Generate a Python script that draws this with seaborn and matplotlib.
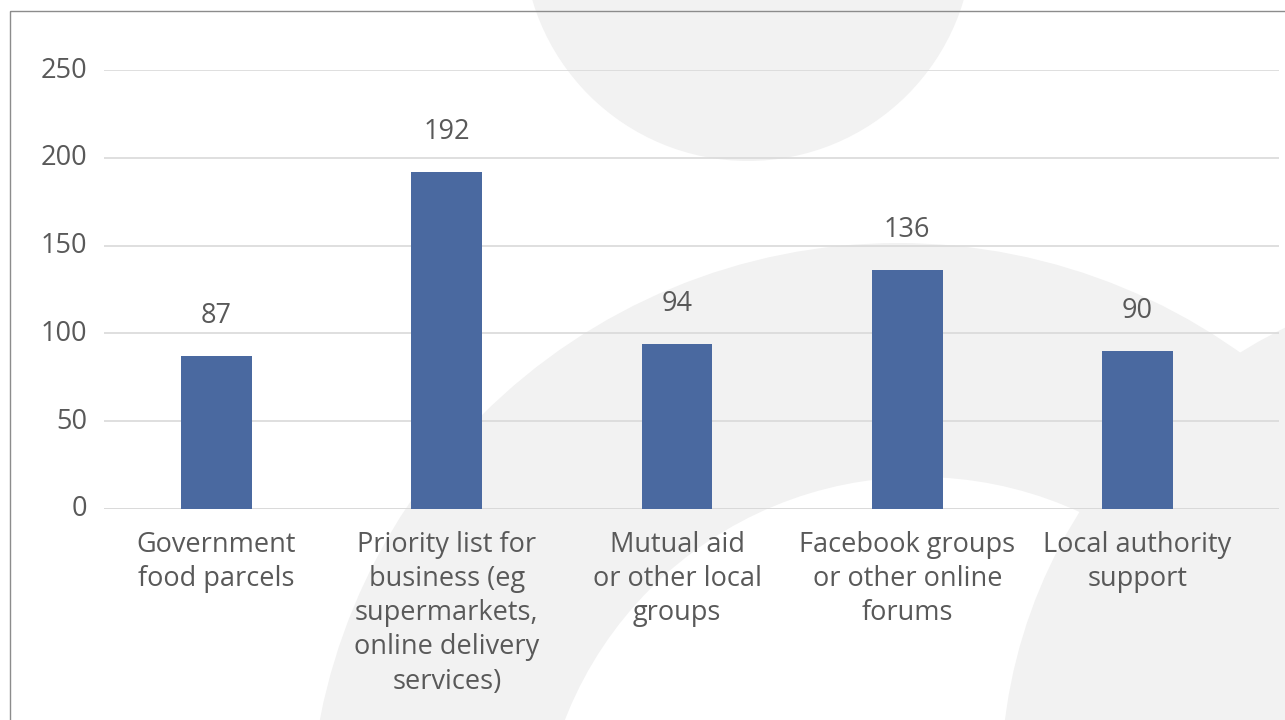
import matplotlib
matplotlib.use("Agg")
import matplotlib.pyplot as plt
from matplotlib.patches import Circle, Rectangle
from matplotlib.transforms import ScaledTranslation
import seaborn as sns
import pandas as pd

categories = [
    "Government\nfood parcels",
    "Priority list for\nbusiness (eg\nsupermarkets,\nonline delivery\nservices)",
    "Mutual aid\nor other local\ngroups",
    "Facebook groups\nor other online\nforums",
    "Local authority\nsupport",
]
values = [87, 192, 94, 136, 90]
y_ticks = [0, 50, 100, 150, 200, 250]

BAR = "#4A69A0"
TXT = "#595959"
GRID = "#D9D9D9"
SHAPE = "#F2F2F2"
FS = 19.5

sns.set_theme(style="white")
plt.rcParams["font.family"] = ["Open Sans", "DejaVu Sans"]

W, H = 1285, 720
fig = plt.figure(figsize=(W / 100, H / 100), dpi=100)
fig.patch.set_facecolor("white")

# decorative background in pixel space
bg = fig.add_axes([0, 0, 1, 1], zorder=0)
bg.set_xlim(0, W)
bg.set_ylim(H, 0)
bg.axis("off")
bg.add_patch(Circle((898, 832), 589, color=SHAPE, lw=0))
bg.add_patch(Circle((920, 858), 381, color="white", lw=0))
bg.add_patch(Circle((1508, 783), 507, color=SHAPE, lw=0))
bg.add_patch(Circle((748, -64), 225, color=SHAPE, lw=0))
bg.add_patch(Rectangle((10, 11), W + 20, H + 20, fill=False, ec="#8C8C8C", lw=1.0))

ax = fig.add_axes([104 / W, 1 - 509 / H, (1279 - 104) / W, (509 - 70) / H], zorder=1)
ax.patch.set_alpha(0)

df = pd.DataFrame({"cat": categories, "val": values})
sns.barplot(data=df, x="cat", y="val", color=BAR, width=0.308, saturation=1,
            linewidth=0, edgecolor=BAR, ax=ax, zorder=3)

ax.set_xlim(-0.4886, 4.6145)
ax.set_ylim(0, 250)
ax.set_yticks(y_ticks)
ax.set_yticklabels([str(t) for t in y_ticks])
ax.yaxis.grid(True, color=GRID, lw=1.2, zorder=0)
ax.xaxis.grid(False)
for s in ax.spines.values():
    s.set_visible(False)
ax.axhline(0, color=GRID, lw=1.2, zorder=2)
ax.set_xlabel("")
ax.set_ylabel("")
ax.tick_params(axis="y", length=0, pad=12, labelsize=FS, labelcolor=TXT)
ax.tick_params(axis="x", length=0, pad=15.5, labelsize=FS, labelcolor=TXT)
for lab in ax.get_xticklabels():
    lab.set_linespacing(1.3)
shift = ScaledTranslation(0, 3 / 100, fig.dpi_scale_trans)
for lab in ax.get_yticklabels():
    lab.set_transform(lab.get_transform() + shift)

for i, v in enumerate(values):
    ax.annotate(str(v), (i, v), xytext=(0, 24), textcoords="offset points",
                ha="center", va="baseline", fontsize=FS, color=TXT)

fig.savefig("out.png", dpi=100, facecolor="white")
